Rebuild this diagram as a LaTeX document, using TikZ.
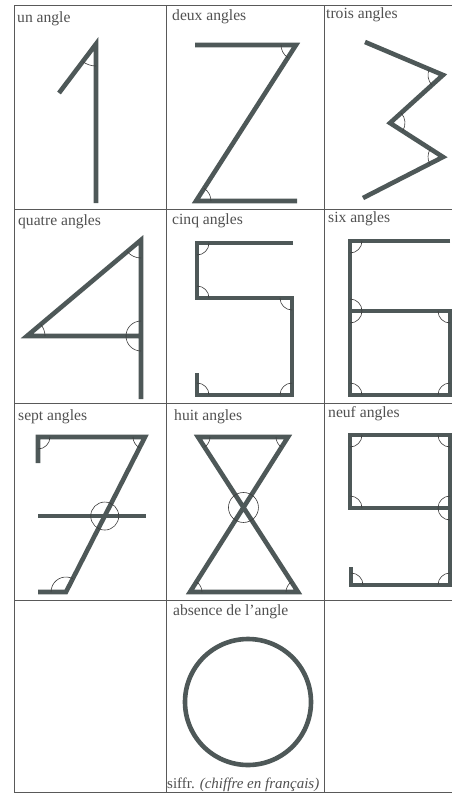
\documentclass[tikz,border=0pt]{standalone}
\usepackage{fontspec}
\setmainfont{Liberation Serif}
\usepackage{xcolor}
\usetikzlibrary{angles}
\definecolor{digit}{HTML}{4E5858}
\definecolor{ink}{HTML}{3C3C3C}

\begin{document}
\begin{tikzpicture}[x=1pt,y=1pt,
    every node/.style={font=\fontsize{15.6}{18}\selectfont,text=ink!90,inner sep=0pt,anchor=base west},
    tableline/.style={draw=ink!85,line width=0.8pt},
    digitline/.style={draw=digit,line width=4.6pt,line join=miter},
    anglemark/.style={draw=ink,line width=0.6pt,angle radius=#1},
    anglemark/.default=12pt]
  \useasboundingbox (0,0) rectangle (459,-795);
  % table
  \foreach \y in {5,209,403,600,792} {
    \draw[tableline] (14,-\y) -- (452,-\y);
  }
  \foreach \x in {14,166,324} {
    \draw[tableline] (\x,-5) -- (\x,-792);
  }
  % headings
  \foreach \x/\y/\t [count=\i] in {17/22/un angle,172/20/deux angles,326/18/trois angles,
      18/225/quatre angles,172/224/cinq angles,328/222/six angles,
      18/420/sept angles,174/420/huit angles,328/417/neuf angles,
      173/615/absence de l'angle} {
    \node (lab\i) at (\x,-\y) {\t};
  }
  \node[font=\fontsize{15}{18}\selectfont] (note) at (167,-788) {siffr. {\itshape (chiffre en français)}};

  % 1
  \coordinate (o1l) at (59,-93);
  \coordinate (o1t) at (96,-44);
  \coordinate (o1b) at (96,-203);
  \draw[digitline] (o1l) -- (o1t) -- (o1b);
  \pic[anglemark=22pt] {angle = o1l--o1t--o1b};

  % 2
  \coordinate (z1) at (195,-45);
  \coordinate (z2) at (296,-45);
  \coordinate (z3) at (196,-201);
  \coordinate (z4) at (297,-201);
  \draw[digitline] (z1) -- (z2) -- (z3) -- (z4);
  \pic[anglemark=15pt] {angle = z1--z2--z3};
  \pic[anglemark=15pt] {angle = z4--z3--z2};

  % 3
  \coordinate (w1) at (365,-42);
  \coordinate (w2) at (443,-75);
  \coordinate (w3) at (390,-123);
  \coordinate (w4) at (443,-157);
  \coordinate (w5) at (363,-198);
  \draw[digitline] (w1) -- (w2) -- (w3) -- (w4) -- (w5);
  \pic[anglemark=15pt] {angle = w1--w2--w3};
  \pic[anglemark=15pt] {angle = w4--w3--w2};
  \pic[anglemark=15pt] {angle = w3--w4--w5};

  % 4
  \coordinate (f1) at (141,-240);
  \coordinate (f2) at (141,-399);
  \coordinate (f3) at (27,-336);
  \coordinate (f4) at (141,-336);
  \draw[digitline] (f2) -- (f1) -- (f3) -- (f4);
  \pic[anglemark=18pt] {angle = f3--f1--f2};
  \pic[anglemark=18pt] {angle = f4--f3--f1};
  \pic[anglemark=15pt] {angle = f1--f4--f3};
  \pic[anglemark=15pt] {angle = f3--f4--f2};

  % 5
  \coordinate (p1) at (293,-243);
  \coordinate (p2) at (197,-243);
  \coordinate (p3) at (197,-298);
  \coordinate (p4) at (292,-298);
  \coordinate (p5) at (292,-395);
  \coordinate (p6) at (197,-395);
  \coordinate (p7) at (197,-373);
  \draw[digitline] (p1) -- (p2) -- (p3) -- (p4) -- (p5) -- (p6) -- (p7);
  \pic[anglemark] {angle = p3--p2--p1};
  \pic[anglemark] {angle = p4--p3--p2};
  \pic[anglemark] {angle = p3--p4--p5};
  \pic[anglemark] {angle = p4--p5--p6};
  \pic[anglemark] {angle = p5--p6--p7};

  % 6
  \coordinate (s1) at (450,-241);
  \coordinate (s2) at (350,-241);
  \coordinate (s3) at (350,-311);
  \coordinate (s4) at (350,-395);
  \coordinate (s5) at (450,-395);
  \coordinate (s6) at (450,-311);
  \draw[digitline] (s1) -- (s2) -- (s4) -- (s5) -- (s6) -- (s3);
  \pic[anglemark] {angle = s3--s2--s1};
  \pic[anglemark] {angle = s6--s3--s2};
  \pic[anglemark] {angle = s4--s3--s6};
  \pic[anglemark] {angle = s3--s6--s5};
  \pic[anglemark] {angle = s5--s4--s3};
  \pic[anglemark] {angle = s6--s5--s4};

  % 7
  \coordinate (v1) at (38,-463);
  \coordinate (v2) at (38,-437);
  \coordinate (v3) at (145,-437);
  \coordinate (v4) at (66,-592);
  \coordinate (v5) at (38,-592);
  \coordinate (v6) at (38,-516);
  \coordinate (v7) at (146,-516);
  \coordinate (vx) at (intersection of v3--v4 and v6--v7);
  \draw[digitline] (v1) -- (v2) -- (v3) -- (v4) -- (v5);
  \draw[digitline] (v6) -- (v7);
  \pic[anglemark] {angle = v1--v2--v3};
  \pic[anglemark] {angle = v2--v3--v4};
  \pic[anglemark=15pt] {angle = v3--v4--v5};
  \draw[anglemark] (vx) circle[radius=14];

  % 8
  \coordinate (h1) at (198,-437);
  \coordinate (h2) at (288,-437);
  \coordinate (h3) at (298,-592);
  \coordinate (h4) at (190,-592);
  \coordinate (hx) at (intersection of h1--h3 and h2--h4);
  \draw[digitline] (h1) -- (h2) -- (h4) -- (h3) -- cycle;
  \pic[anglemark] {angle = h3--h1--h2};
  \pic[anglemark] {angle = h1--h2--h4};
  \pic[anglemark] {angle = h3--h4--h2};
  \pic[anglemark] {angle = h1--h3--h4};
  \draw[anglemark] (hx) circle[radius=15];

  % 9
  \coordinate (n1) at (350,-508);
  \coordinate (n2) at (350,-435);
  \coordinate (n3) at (450,-435);
  \coordinate (n4) at (450,-585);
  \coordinate (n5) at (351,-585);
  \coordinate (n6) at (351,-567);
  \coordinate (n7) at (450,-508);
  \draw[digitline] (n7) -- (n1) -- (n2) -- (n3) -- (n4) -- (n5) -- (n6);
  \pic[anglemark] {angle = n7--n1--n2};
  \pic[anglemark] {angle = n1--n2--n3};
  \pic[anglemark] {angle = n2--n3--n4};
  \pic[anglemark] {angle = n3--n7--n1};
  \pic[anglemark] {angle = n1--n7--n4};
  \pic[anglemark] {angle = n7--n4--n5};
  \pic[anglemark] {angle = n4--n5--n6};

  % 0
  \coordinate (c0) at (248,-702);
  \draw[digitline] (c0) circle[radius=63];
\end{tikzpicture}
\end{document}
